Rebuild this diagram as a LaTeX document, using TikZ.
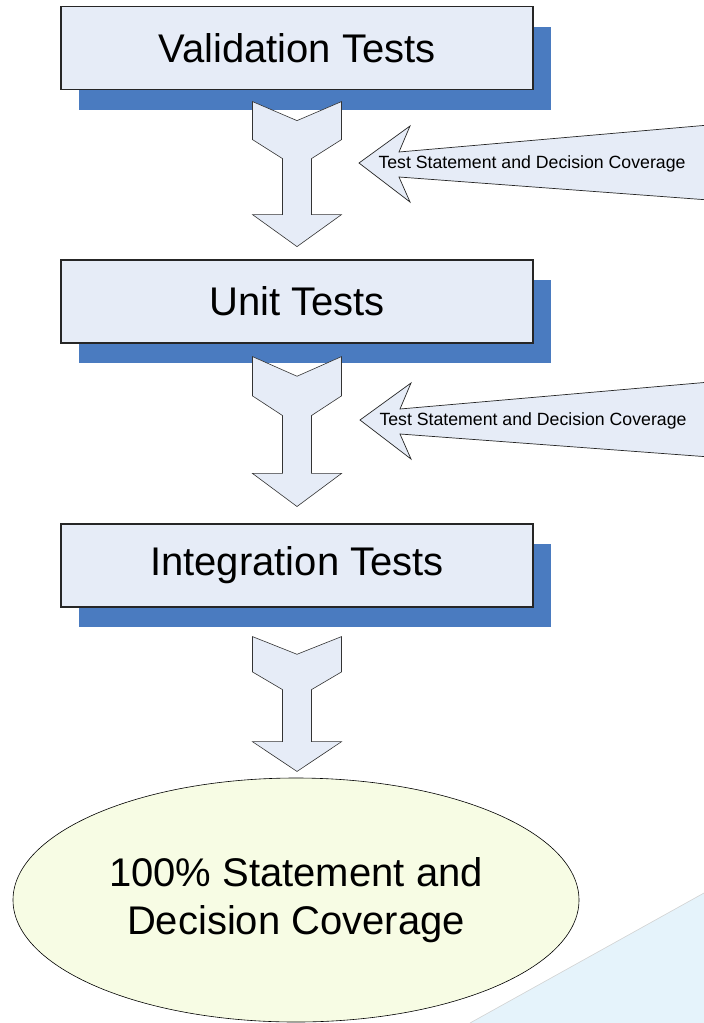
\documentclass[tikz,border=0pt]{standalone}
\usepackage{fontspec}
\setmainfont{Liberation Sans}
\usetikzlibrary{shapes.geometric}
\definecolor{boxfill}{HTML}{E6ECF7}
\definecolor{shadowblue}{HTML}{4A7BC0}
\definecolor{ovalfill}{HTML}{F7FCE4}
\definecolor{paleblue}{HTML}{E5F3FB}
\tikzset{
  stage/.style={draw=black!85, line width=1.2pt, fill=boxfill, minimum width=472pt,
    minimum height=83pt, inner sep=0pt, font=\fontsize{40}{48}\selectfont},
  shadowbox/.style={fill=shadowblue, minimum width=472pt, minimum height=83pt, inner sep=0pt},
  flow/.style={draw=black!80, line width=0.6pt, fill=boxfill, line join=miter},
  note/.style={font=\fontsize{17.7}{20}\selectfont, inner sep=0pt},
  goal/.style={ellipse, draw=black, line width=0.6pt, fill=ovalfill, minimum width=566pt,
    minimum height=244pt, inner sep=0pt, align=center, font=\fontsize{40}{48}\selectfont},
  chev/.pic={
    \path[flow] (-44.5,0) -- (0,19) -- (44.5,0) -- (44.5,38) -- (14.5,57) -- (14.5,113)
      -- (44.5,113) -- (0,145) -- (-44.5,113) -- (-14.5,113) -- (-14.5,57) -- (-44.5,38) -- cycle;
  },
  callout/.pic={
    \fill[boxfill] (350,-38) -- (40,-11) -- (51,-37) -- (0,0) -- (51,39) -- (40,14) -- (350,37) -- cycle;
    \draw[black!85, line width=0.7pt, line join=miter] (350,-38) -- (40,-11) -- (51,-37) -- (0,0)
      -- (51,39) -- (40,14) -- (350,37);
    \node[note] (-txt) at (173,1) {Test Statement and Decision Coverage};
  }
}
\begin{document}
\begin{tikzpicture}[x=1pt,y=-1pt]
\useasboundingbox[fill=white] (0,0) rectangle (704,1023);

% pale background wedge
\fill[paleblue] (470,1023) -- (704,893) -- (704,1023) -- cycle;
\draw[black!18, line width=0.6pt] (470,1023) -- (704,893);

% goal ellipse
\node[goal] (goal) at (296,900) {100\% Statement and\\Decision Coverage};

% stage boxes with shadows
\node[shadowbox] (s1) at (315,68) {};
\node[stage] (v1) at ([shift={(-18,-20)}]s1.center) {Validation Tests};
\node[shadowbox] (s2) at (315,321.5) {};
\node[stage] (v2) at ([shift={(-18,-20)}]s2.center) {Unit Tests};
\node[shadowbox] (s3) at (315,585.5) {};
\node[stage] (v3) at ([shift={(-18,-20)}]s3.center) {Integration Tests};

% chevron arrows between stages
\path (v1.south) ++(0,11.5) pic {chev};
\path (v2.south) ++(0,13) pic[yscale=1.034] {chev};
\path (v3.south) ++(0,29) pic[yscale=0.93] {chev};

% callouts
\pic (c1) at (359,163) {callout};
\pic (c2) at (360,420) {callout};
\end{tikzpicture}
\end{document}
